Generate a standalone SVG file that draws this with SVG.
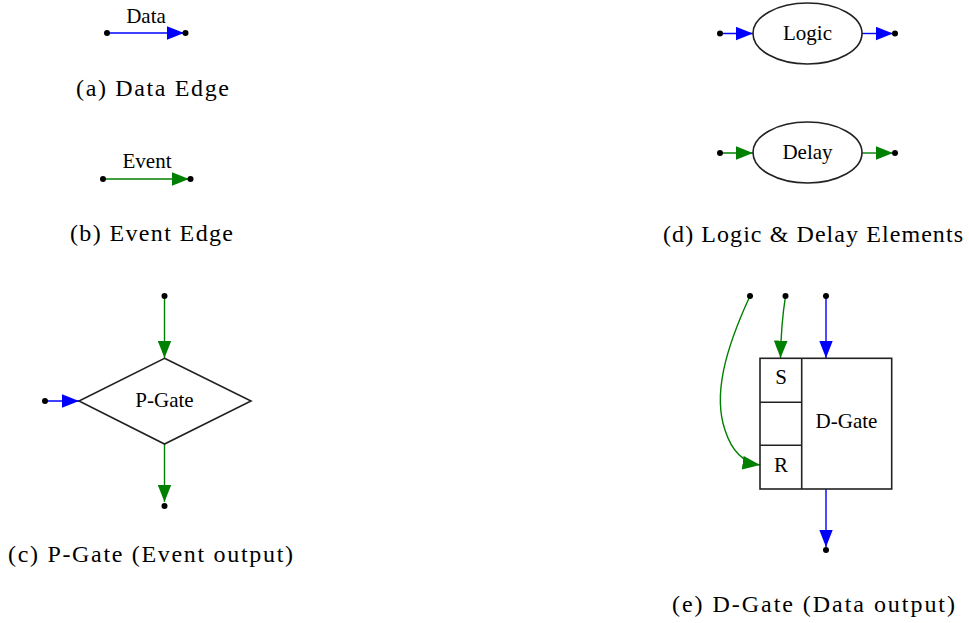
<svg xmlns="http://www.w3.org/2000/svg" width="969" height="623" viewBox="0 0 969 623">
<style>
text{font-family:'Liberation Serif','Times New Roman',Times,serif}
.lbl{font-size:21px;fill:#000;text-anchor:middle}
.cap{font-size:24px;fill:#000}
.shape{fill:#fff;stroke:#222;stroke-width:1.6}
.data{fill:none;stroke:#0000ff;stroke-width:1.4}
.event{fill:none;stroke:#008000;stroke-width:1.4}
.dot{fill:#000}
</style>
<defs>
<marker id="ab" markerUnits="userSpaceOnUse" markerWidth="18" markerHeight="14" viewBox="0 0 17 13" refX="16.5" refY="6.5" orient="auto"><path d="M0,0 L16.5,6.5 L0,13 Z" fill="#0000ff"/></marker>
<marker id="ag" markerUnits="userSpaceOnUse" markerWidth="18" markerHeight="14" viewBox="0 0 17 13" refX="16.5" refY="6.5" orient="auto"><path d="M0,0 L16.5,6.5 L0,13 Z" fill="#008000"/></marker>
</defs>
<rect width="969" height="623" fill="#fff"/>

<g id="connectors">
<path class="data" d="M107,33 L184,33" marker-end="url(#ab)"/>
<path class="event" d="M103,179 L189,179" marker-end="url(#ag)"/>
<path class="data" d="M720,33.5 L753,33.5" marker-end="url(#ab)"/>
<path class="data" d="M862,33.5 L893,33.5" marker-end="url(#ab)"/>
<path class="event" d="M720,153 L753,153" marker-end="url(#ag)"/>
<path class="event" d="M862,153 L893,153" marker-end="url(#ag)"/>
<path class="event" d="M164.5,296 L164.5,358" marker-end="url(#ag)"/>
<path class="data" d="M45,401 L79,401" marker-end="url(#ab)"/>
<path class="event" d="M164.5,444 L164.5,502" marker-end="url(#ag)"/>
<path class="event" d="M785.5,296 Q781,325 780.5,358" marker-end="url(#ag)"/>
<path class="data" d="M826,296 L826,358" marker-end="url(#ab)"/>
<path class="event" d="M750,296 C725,350 713,395 725,430 C732,452 745,463 760,465" marker-end="url(#ag)"/>
<path class="data" d="M826,489 L826,547" marker-end="url(#ab)"/>
</g>

<g id="dots">
<circle class="dot" cx="107" cy="33" r="3"/>
<circle class="dot" cx="185.5" cy="33" r="3"/>
<circle class="dot" cx="103" cy="179" r="3"/>
<circle class="dot" cx="190.5" cy="179" r="3"/>
<circle class="dot" cx="720" cy="33.5" r="3"/>
<circle class="dot" cx="895" cy="33.5" r="3"/>
<circle class="dot" cx="720" cy="153" r="3"/>
<circle class="dot" cx="895" cy="153" r="3"/>
<circle class="dot" cx="164.5" cy="296" r="3"/>
<circle class="dot" cx="45" cy="401" r="3"/>
<circle class="dot" cx="164.5" cy="506" r="3"/>
<circle class="dot" cx="750" cy="296" r="3"/>
<circle class="dot" cx="785.5" cy="296" r="3"/>
<circle class="dot" cx="826" cy="296" r="3"/>
<circle class="dot" cx="826" cy="550" r="3"/>
</g>

<g id="edge-labels">
<text class="lbl" x="146" y="23">Data</text>
<text class="lbl" x="147" y="168">Event</text>
</g>

<g id="logic">
<ellipse class="shape" cx="807.5" cy="33.5" rx="54.5" ry="30.5"/>
<text class="lbl" x="807.5" y="39.5">Logic</text>
</g>
<g id="delay">
<ellipse class="shape" cx="807.5" cy="152.5" rx="54.5" ry="30.5"/>
<text class="lbl" x="807.5" y="158.5">Delay</text>
</g>
<g id="pgate">
<polygon class="shape" points="164.5,358.3 251,401 164.5,444 79,401"/>
<text class="lbl" x="164.5" y="407">P-Gate</text>
</g>
<g id="dgate">
<rect class="shape" x="760" y="358.3" width="131.7" height="130.7"/>
<line class="shape" x1="801.7" y1="358.3" x2="801.7" y2="489"/>
<line class="shape" x1="760" y1="402.3" x2="801.7" y2="402.3"/>
<line class="shape" x1="760" y1="445.3" x2="801.7" y2="445.3"/>
<text class="lbl" x="781" y="384">S</text>
<text class="lbl" x="781" y="471.5">R</text>
<text class="lbl" x="846.5" y="428">D-Gate</text>
</g>

<g id="captions">
<text class="cap" x="76" y="96" textLength="153" lengthAdjust="spacing">(a) Data Edge</text>
<text class="cap" x="70" y="241" textLength="163" lengthAdjust="spacing">(b) Event Edge</text>
<text class="cap" x="8" y="562" textLength="285" lengthAdjust="spacing">(c) P-Gate (Event output)</text>
<text class="cap" x="663" y="242" textLength="300" lengthAdjust="spacing">(d) Logic &amp; Delay Elements</text>
<text class="cap" x="672" y="612" textLength="283" lengthAdjust="spacing">(e) D-Gate (Data output)</text>
</g>
</svg>
